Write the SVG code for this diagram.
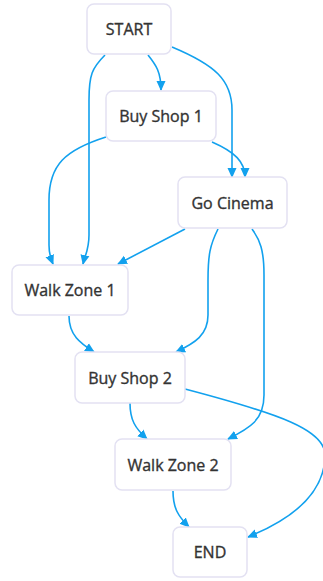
<svg xmlns="http://www.w3.org/2000/svg" width="323" height="581" viewBox="0 0 323 581">
<style>
.node rect{fill:#fff;stroke:#e3e1f2;stroke-width:1.5}
.node text{font-family:"Open Sans","Noto Sans",sans-serif;font-size:16px;fill:#333;stroke:#333;stroke-width:0.35;text-anchor:middle;dominant-baseline:central}
.edges path{fill:none;stroke:#12a1ee;stroke-width:1.6}
</style>
<defs>
<marker id="arr" viewBox="0 0 10 10" refX="9" refY="5" markerWidth="10" markerHeight="10" markerUnits="userSpaceOnUse" orient="auto">
<path d="M0,0.5 L10,5 L0,9.5 z" fill="#12a1ee"/>
</marker>
</defs>
<rect width="323" height="581" fill="#fff"/>
<g class="edges">
<path marker-end="url(#arr)" d="M148,55 C156,65 161,72 161,90"/>
<path marker-end="url(#arr)" d="M105,55 C92,68 89,75 89,100 L89,235 C89,250 85,255 83,264"/>
<path marker-end="url(#arr)" d="M172,47 C215,65 232,80 232,110 L232,177"/>
<path marker-end="url(#arr)" d="M106,137 C65,150 49,165 49,200 L49,245 C49,255 51,259 53,264"/>
<path marker-end="url(#arr)" d="M212,142 C235,152 245,162 245,177"/>
<path marker-end="url(#arr)" d="M185,229 L118,264"/>
<path marker-end="url(#arr)" d="M218,229 C210,245 208,255 208,280 L208,315 C208,335 195,343 176,352"/>
<path marker-end="url(#arr)" d="M252,229 C260,240 264,250 264,275 L264,395 C264,420 250,428 228,439"/>
<path marker-end="url(#arr)" d="M69,316 C69,335 80,343 94,352"/>
<path marker-end="url(#arr)" d="M130,403 C130,420 135,428 147,439"/>
<path marker-end="url(#arr)" d="M185,389 C280,414 325,430 325,455 C325,495 290,520 248,537"/>
<path marker-end="url(#arr)" d="M173,491 C173,508 178,516 189,527"/>
</g>
<g id="start" class="node"><rect x="87" y="4" width="84" height="50" rx="7"/><text x="129" y="29">START</text></g>
<g id="buyshop1" class="node"><rect x="106" y="91" width="110" height="50" rx="7"/><text x="161" y="116">Buy Shop 1</text></g>
<g id="gocinema" class="node"><rect x="178" y="177" width="109" height="51" rx="7"/><text x="232.5" y="202.5">Go Cinema</text></g>
<g id="walkzone1" class="node"><rect x="12" y="265" width="116" height="50" rx="7"/><text x="70" y="290">Walk Zone 1</text></g>
<g id="buyshop2" class="node"><rect x="75" y="352" width="110" height="51" rx="7"/><text x="130" y="377.5">Buy Shop 2</text></g>
<g id="walkzone2" class="node"><rect x="115" y="439" width="116" height="51" rx="7"/><text x="173" y="464.5">Walk Zone 2</text></g>
<g id="end" class="node"><rect x="173" y="527" width="74" height="50" rx="7"/><text x="210" y="552">END</text></g>
</svg>
